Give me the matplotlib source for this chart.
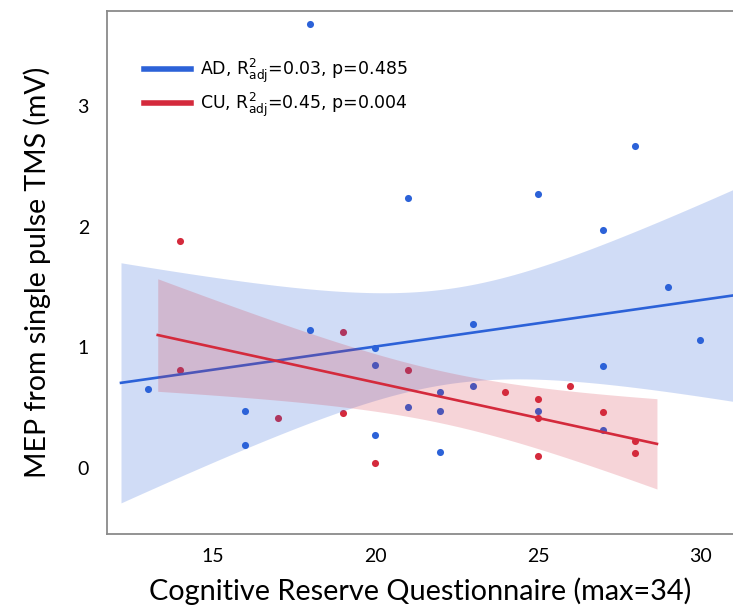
import numpy as np
import matplotlib
matplotlib.use("Agg")
import matplotlib.pyplot as plt

# AD group (blue)
ad_x = [13, 16, 16, 18, 18, 20, 20, 20, 21, 21, 22, 22, 22, 23, 23, 25, 25, 27, 27, 27, 28, 29, 30]
ad_y = [0.65, 0.47, 0.19, 3.68, 1.14, 0.99, 0.85, 0.27, 2.24, 0.50, 0.63, 0.47, 0.13, 1.19, 0.68,
        2.27, 0.47, 1.97, 0.84, 0.31, 2.67, 1.50, 1.06]
# CU group (red)
cu_x = [14, 14, 17, 19, 19, 20, 21, 24, 25, 25, 25, 26, 27, 28, 28]
cu_y = [1.88, 0.81, 0.41, 1.13, 0.45, 0.04, 0.81, 0.63, 0.57, 0.41, 0.10, 0.68, 0.46, 0.22, 0.12]

ad_label = "AD, R$^2_{\\mathrm{adj}}$=0.03, p=0.485"
cu_label = "CU, R$^2_{\\mathrm{adj}}$=0.45, p=0.004"

blue = "#2c62d8"
red = "#d42a3c"


def fit_band(x, y, x0, x1, tcrit):
    # ordinary least squares + 95% confidence band of the mean
    x = np.asarray(x, float)
    y = np.asarray(y, float)
    n = len(x)
    b, a = np.polyfit(x, y, 1)
    res = y - (a + b * x)
    s = np.sqrt(np.sum(res ** 2) / (n - 2))
    sxx = np.sum((x - x.mean()) ** 2)
    grid = np.linspace(x0, x1, 200)
    yhat = a + b * grid
    se = s * np.sqrt(1.0 / n + (grid - x.mean()) ** 2 / sxx)
    return grid, yhat, yhat - tcrit * se, yhat + tcrit * se


fig = plt.figure(figsize=(7.33, 6.13), dpi=100)
ax = fig.add_axes([0.146, 0.129, 0.854, 0.853])

ax.scatter(ad_x, ad_y, s=26, color=blue, linewidths=0, zorder=1)
ax.scatter(cu_x, cu_y, s=26, color=red, linewidths=0, zorder=1)

g, yh, lo, hi = fit_band(ad_x, ad_y, 12.17, 31.2, 2.080)
ax.fill_between(g, lo, hi, color=blue, alpha=0.22, linewidth=0, zorder=2)
ax.plot(g, yh, color=blue, lw=1.9, zorder=3, label=ad_label)

g, yh, lo, hi = fit_band(cu_x, cu_y, 13.3, 28.66, 2.160)
ax.fill_between(g, lo, hi, color=red, alpha=0.2, linewidth=0, zorder=4)
ax.plot(g, yh, color=red, lw=1.9, zorder=5, label=cu_label)

ax.set_xlim(11.74, 31.0)
ax.set_ylim(-0.55, 3.79)
ax.set_xticks([15, 20, 25, 30])
ax.set_yticks([0, 1, 2, 3])
ax.tick_params(length=0, labelsize=14)
ax.tick_params(axis="x", pad=10)
ax.tick_params(axis="y", pad=13)
for lab in ax.get_xticklabels() + ax.get_yticklabels():
    lab.set_family("Lato")

for side in ["left", "bottom", "top"]:
    ax.spines[side].set_color("#8a8a8a")
    ax.spines[side].set_linewidth(1.3)
ax.spines["right"].set_visible(False)

ax.set_xlabel("Cognitive Reserve Questionnaire (max=34)", fontsize=20.8, family="Lato", labelpad=9)
ax.set_ylabel("MEP from single pulse TMS (mV)", fontsize=20.5, family="Lato", labelpad=19)

leg = ax.legend(loc="upper left", bbox_to_anchor=(0.034, 0.942), frameon=False,
                prop={"family": "DejaVu Sans", "size": 12.5}, handlelength=2.7,
                handletextpad=0.55, labelspacing=0.3)
for line in leg.get_lines():
    line.set_linewidth(4)

fig.savefig("out.png", dpi=100)
